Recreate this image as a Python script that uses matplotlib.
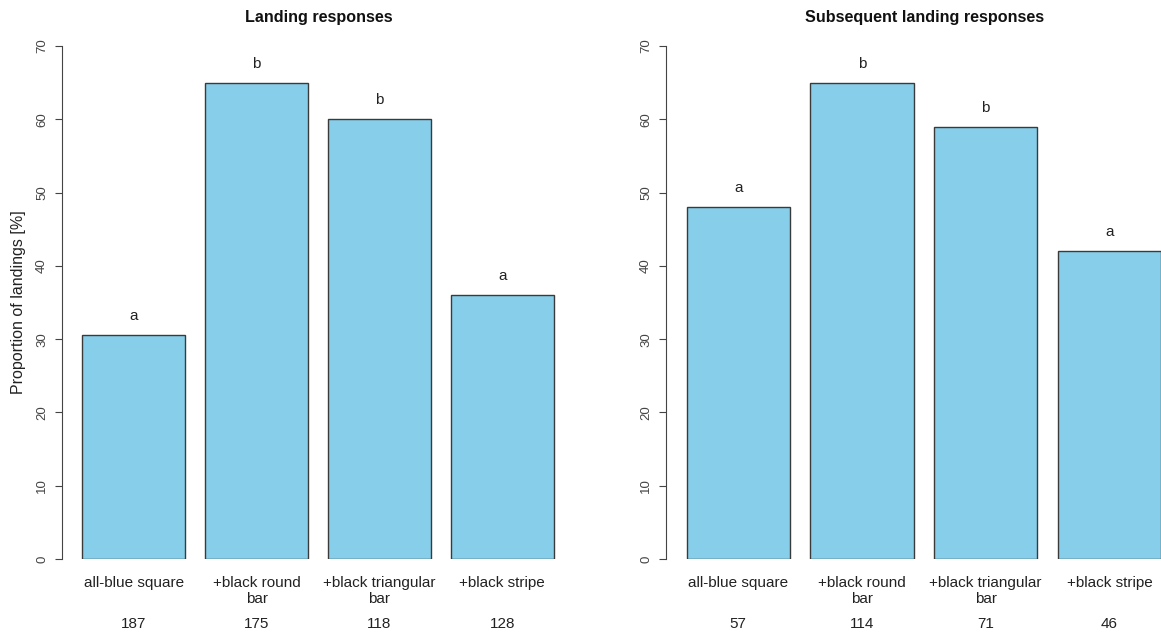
import matplotlib
matplotlib.use("Agg")
import matplotlib.pyplot as plt

plt.rcParams["font.family"] = ["Liberation Sans", "DejaVu Sans"]

categories = ["all-blue square", "+black round\nbar", "+black triangular\nbar", "+black stripe"]
landing = [30.6, 65, 60, 36]
landing_letters = ["a", "b", "b", "a"]
landing_n = [187, 175, 118, 128]
subsequent = [48, 65, 59, 42]
subsequent_letters = ["a", "b", "b", "a"]
subsequent_n = [57, 114, 71, 46]

BAR = "#87CEEB"
EDGE = "#3a3a3a"
TICK = "#444444"
INK = "#222222"

fig = plt.figure(figsize=(11.61, 6.35), dpi=100)
ax1 = fig.add_axes([62 / 1161, 76 / 635, 511 / 1161, 513 / 635])
ax2 = fig.add_axes([666 / 1161, 76 / 635, 495 / 1161, 513 / 635])

# R barplot layout: width 1, space 0.2
centers = [0.7, 1.9, 3.1, 4.3]


def panel(ax, values, letters, counts, title, xmax, title_x):
    ax.bar(centers, values, width=1.0, color=BAR, edgecolor=EDGE, linewidth=1.0)
    for x, v, lab in zip(centers, values, letters):
        ax.text(x, v + 2.6, lab, ha="center", va="center", fontsize=11, color=INK)
    for x, n in zip(centers, counts):
        ax.annotate(str(n), xy=(x, 0), xycoords=("data", "axes fraction"),
                    xytext=(0, -47), textcoords="offset points",
                    ha="center", va="center", fontsize=11, color=INK)
    ax.set_xlim(0, xmax)
    ax.set_ylim(0, 70)
    ax.set_xticks(centers)
    ax.set_xticklabels(categories, fontsize=11, color=INK, linespacing=1.25)
    ax.tick_params(axis="x", length=0, pad=12)
    ax.set_yticks(range(0, 71, 10))
    ax.tick_params(axis="y", length=5, width=0.8, color=TICK, labelsize=9.5,
                   labelcolor=TICK, pad=5)
    for lab in ax.get_yticklabels():
        lab.set_rotation(90)
        lab.set_va("center")
    for s in ["top", "right", "bottom"]:
        ax.spines[s].set_visible(False)
    ax.spines["left"].set_color(TICK)
    ax.spines["left"].set_linewidth(0.8)
    ax.spines["left"].set_bounds(0, 70)
    ax.set_title(title, fontsize=11.6, fontweight="bold", pad=17, x=title_x, color="#111111")
    ax.patch.set_visible(False)


panel(ax1, landing, landing_letters, landing_n, "Landing responses", 4.99, 0.503)
panel(ax2, subsequent, subsequent_letters, subsequent_n, "Subsequent landing responses", 4.8, 0.523)
ax1.set_ylabel("Proportion of landings [%]", fontsize=11.5, color=INK, labelpad=7)

fig.savefig("out.png", dpi=100)
plt.close(fig)
